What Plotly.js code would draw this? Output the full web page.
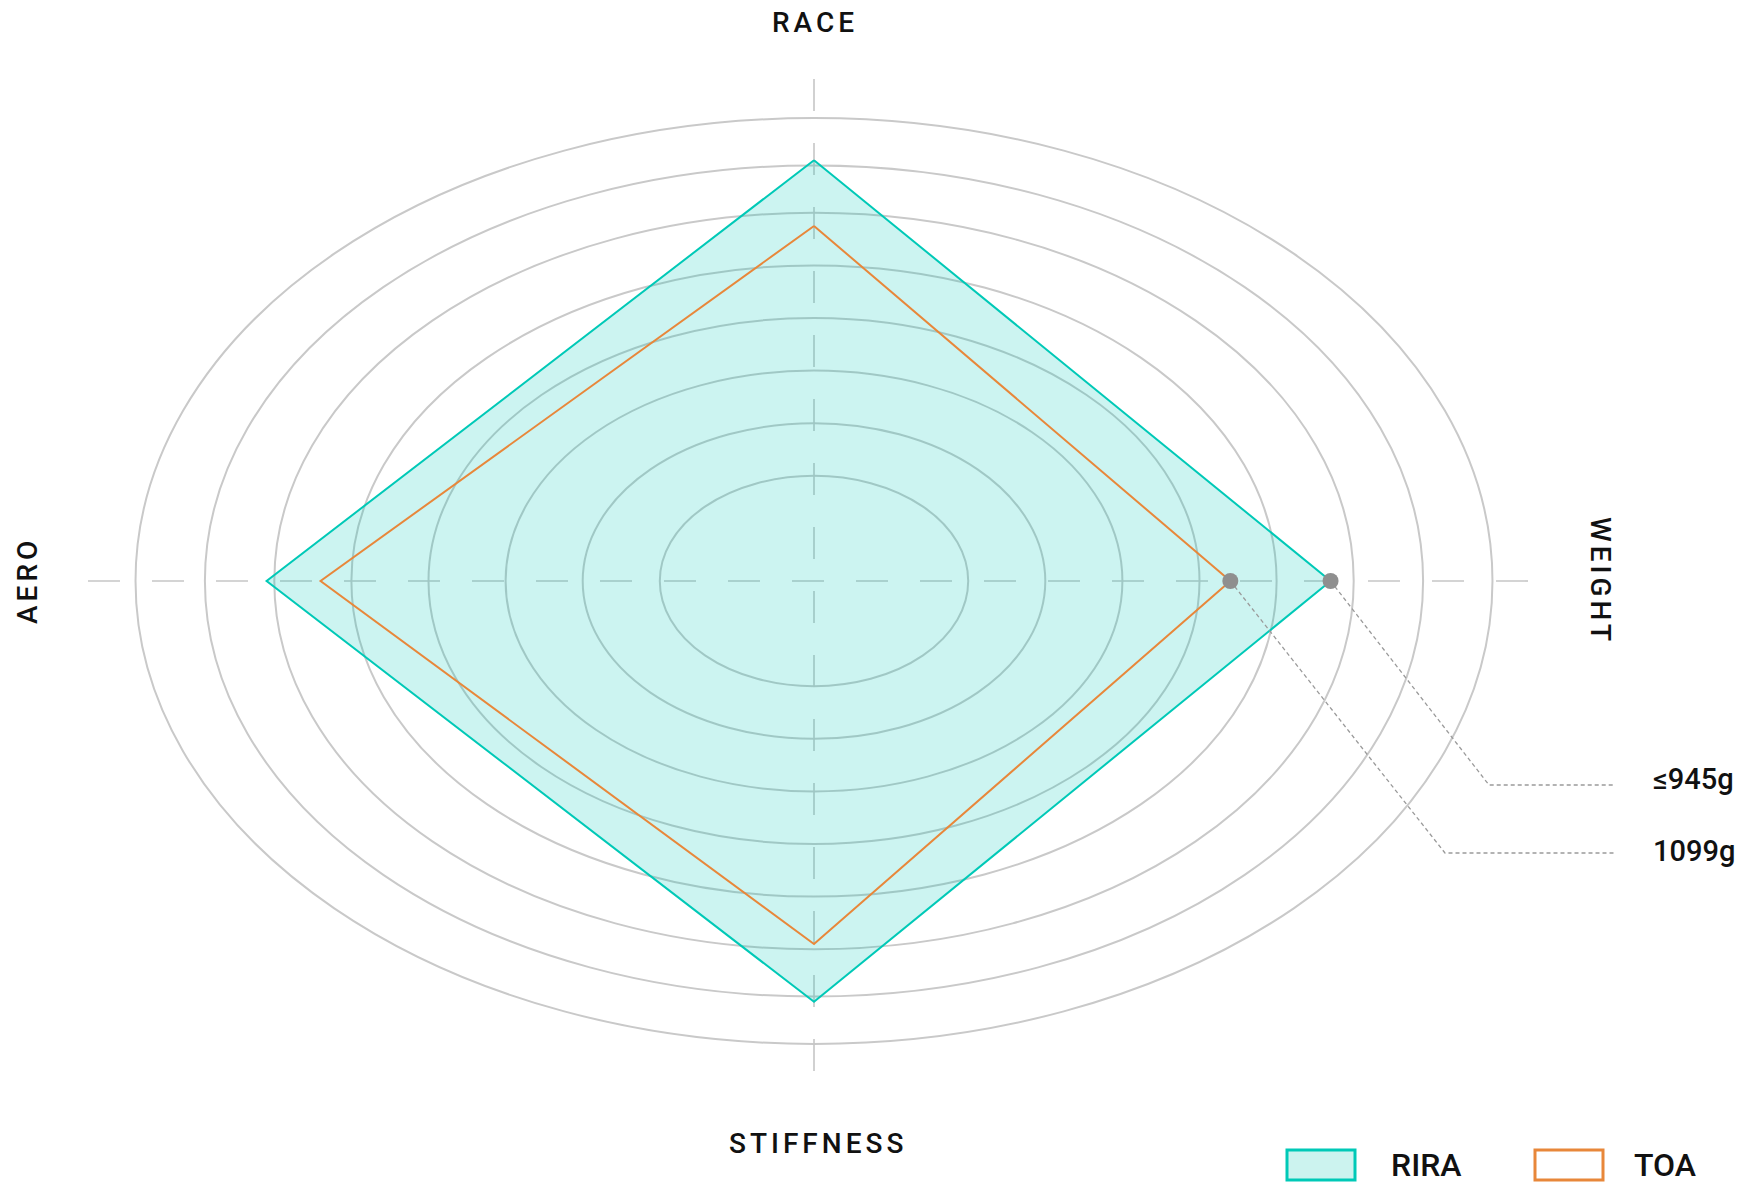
<!DOCTYPE html>
<html>
<head>
<meta charset="utf-8">
<script src="https://cdn.plot.ly/plotly-3.0.1.min.js"></script>
<style>
  html, body { margin: 0; padding: 0; background: #fff; }
  #chart { width: 1753px; height: 1186px; }
</style>
</head>
<body>
<div id="chart"></div>
<script>
// ---- data ----
const categories = ['RACE', 'WEIGHT', 'STIFFNESS', 'AERO'];
const seriesNames = ['RIRA', 'TOA'];
const riraValues = [8.0, 6.7, 8.0, 7.1];
const toaValues = [6.75, 5.4, 6.9, 6.4];
const ringLevels = [2, 3, 4, 5, 6, 7, 7.9, 8.8];
const weightLabels = ['≤945g', '1099g'];

// ---- layout constants (pixels of the 1753x1186 canvas) ----
const W = 1753, H = 1186;
const CX = 814, CY = 581;         // centre of the chart
const UX = 77.1, UY = 52.6;       // pixels per unit, horizontal / vertical
const xRange = [-CX / UX, (W - CX) / UX];
const yRange = [-(H - CY) / UY, CY / UY];
const px2x = p => (p - CX) / UX;
const px2y = p => (CY - p) / UY;

const TEAL = '#00c9b7';
const ORANGE = '#e8873a';
const FONT = 'Roboto, "Liberation Sans", Arial, sans-serif';

// directions: RACE up, WEIGHT right, STIFFNESS down, AERO left
const dirs = [[0, 1], [1, 0], [0, -1], [-1, 0]];
function polygon(vals) {
  const x = [], y = [];
  vals.forEach((v, i) => { x.push(dirs[i][0] * v); y.push(dirs[i][1] * v); });
  x.push(x[0]); y.push(y[0]);
  return { x, y };
}
const rira = polygon(riraValues);
const toa = polygon(toaValues);
const wIdx = categories.indexOf('WEIGHT');

const traces = [
  {
    type: 'scatter', mode: 'lines', name: seriesNames[0],
    x: rira.x, y: rira.y, fill: 'toself',
    fillcolor: 'rgba(0,201,183,0.2)',
    line: { color: TEAL, width: 2 }, hoverinfo: 'skip'
  },
  {
    type: 'scatter', mode: 'lines', name: seriesNames[1],
    x: toa.x, y: toa.y,
    line: { color: ORANGE, width: 2 }, hoverinfo: 'skip'
  }
];

// leader lines from weight points to labels
const elbows = [
  { ex: px2x(1489), ey: px2y(785), endx: px2x(1615), ly: px2y(779) },
  { ex: px2x(1445), ey: px2y(853), endx: px2x(1615), ly: px2y(851) }
];
const weightVals = [riraValues[wIdx], toaValues[wIdx]];
weightVals.forEach((v, i) => {
  traces.push({
    type: 'scatter', mode: 'lines',
    x: [v, elbows[i].ex, elbows[i].endx],
    y: [0, elbows[i].ey, elbows[i].ey],
    line: { color: '#9a9a9a', width: 1.3, dash: '4px,3px' },
    hoverinfo: 'skip'
  });
});
traces.push({
  type: 'scatter', mode: 'markers',
  x: weightVals, y: weightVals.map(() => 0),
  marker: { color: '#8f8f8f', size: 16 },
  hoverinfo: 'skip'
});

// grid: ellipse rings and dashed axes
const shapes = [];
ringLevels.forEach(r => {
  shapes.push({
    type: 'circle', xref: 'x', yref: 'y', layer: 'below',
    x0: -r, x1: r, y0: -r, y1: r,
    line: { color: '#c9c9c9', width: 2 }
  });
});
shapes.push({
  type: 'line', xref: 'x', yref: 'y', layer: 'below',
  x0: px2x(88), x1: px2x(1545), y0: 0, y1: 0,
  line: { color: '#c6c6c6', width: 1.6, dash: '32px,32px' }
});
shapes.push({
  type: 'line', xref: 'x', yref: 'y', layer: 'below',
  x0: 0, x1: 0, y0: px2y(79), y1: px2y(1084),
  line: { color: '#c6c6c6', width: 1.6, dash: '32px,32px' }
});

// custom legend boxes
const px = p => p / W;
const py = p => 1 - p / H;
shapes.push({
  type: 'rect', xref: 'paper', yref: 'paper',
  x0: px(1287), x1: px(1355), y0: py(1180), y1: py(1150),
  fillcolor: '#ccf3ef', line: { color: TEAL, width: 3 }
});
shapes.push({
  type: 'rect', xref: 'paper', yref: 'paper',
  x0: px(1535), x1: px(1603), y0: py(1180), y1: py(1150),
  fillcolor: '#ffffff', line: { color: ORANGE, width: 3 }
});

const labelFont = { family: FONT, size: 28, color: '#111', weight: 500 };
const annotations = [
  { text: categories[0], x: px(815), y: py(22), textangle: 0 },
  { text: categories[1], x: px(1601), y: py(581), textangle: 90 },
  { text: categories[2], x: px(818), y: py(1143), textangle: 0 },
  { text: categories[3], x: px(27), y: py(581), textangle: -90 }
].map(a => Object.assign(a, {
  xref: 'paper', yref: 'paper', xanchor: 'center', yanchor: 'middle',
  showarrow: false, font: labelFont
}));

weightLabels.forEach((t, i) => {
  annotations.push({
    text: t, xref: 'x', yref: 'y', x: px2x(1651), y: elbows[i].ly,
    xanchor: 'left', yanchor: 'middle', showarrow: false,
    font: { family: FONT, size: 29, color: '#111', weight: 500 }
  });
});
seriesNames.forEach((t, i) => {
  annotations.push({
    text: t, xref: 'paper', yref: 'paper', x: px(i === 0 ? 1389 : 1632), y: py(1165),
    xanchor: 'left', yanchor: 'middle', showarrow: false,
    font: { family: FONT, size: 32, color: '#111', weight: 500 }
  });
});

const layout = {
  width: W, height: H,
  margin: { l: 0, r: 0, t: 0, b: 0, pad: 0 },
  paper_bgcolor: '#ffffff', plot_bgcolor: '#ffffff',
  showlegend: false,
  xaxis: { range: xRange, visible: false, fixedrange: true },
  yaxis: { range: yRange, visible: false, fixedrange: true },
  shapes: shapes,
  annotations: annotations,
  hovermode: false
};

Plotly.newPlot('chart', traces, layout, { displayModeBar: false, staticPlot: true }).then(() => {
  // letter-spacing for the four axis labels
  document.querySelectorAll('g.annotation').forEach(g => {
    const idx = +g.getAttribute('data-index');
    if (idx < 4) {
      const t = g.querySelector('text');
      if (t) t.style.letterSpacing = '4px';
    }
  });
});
</script>
</body>
</html>
